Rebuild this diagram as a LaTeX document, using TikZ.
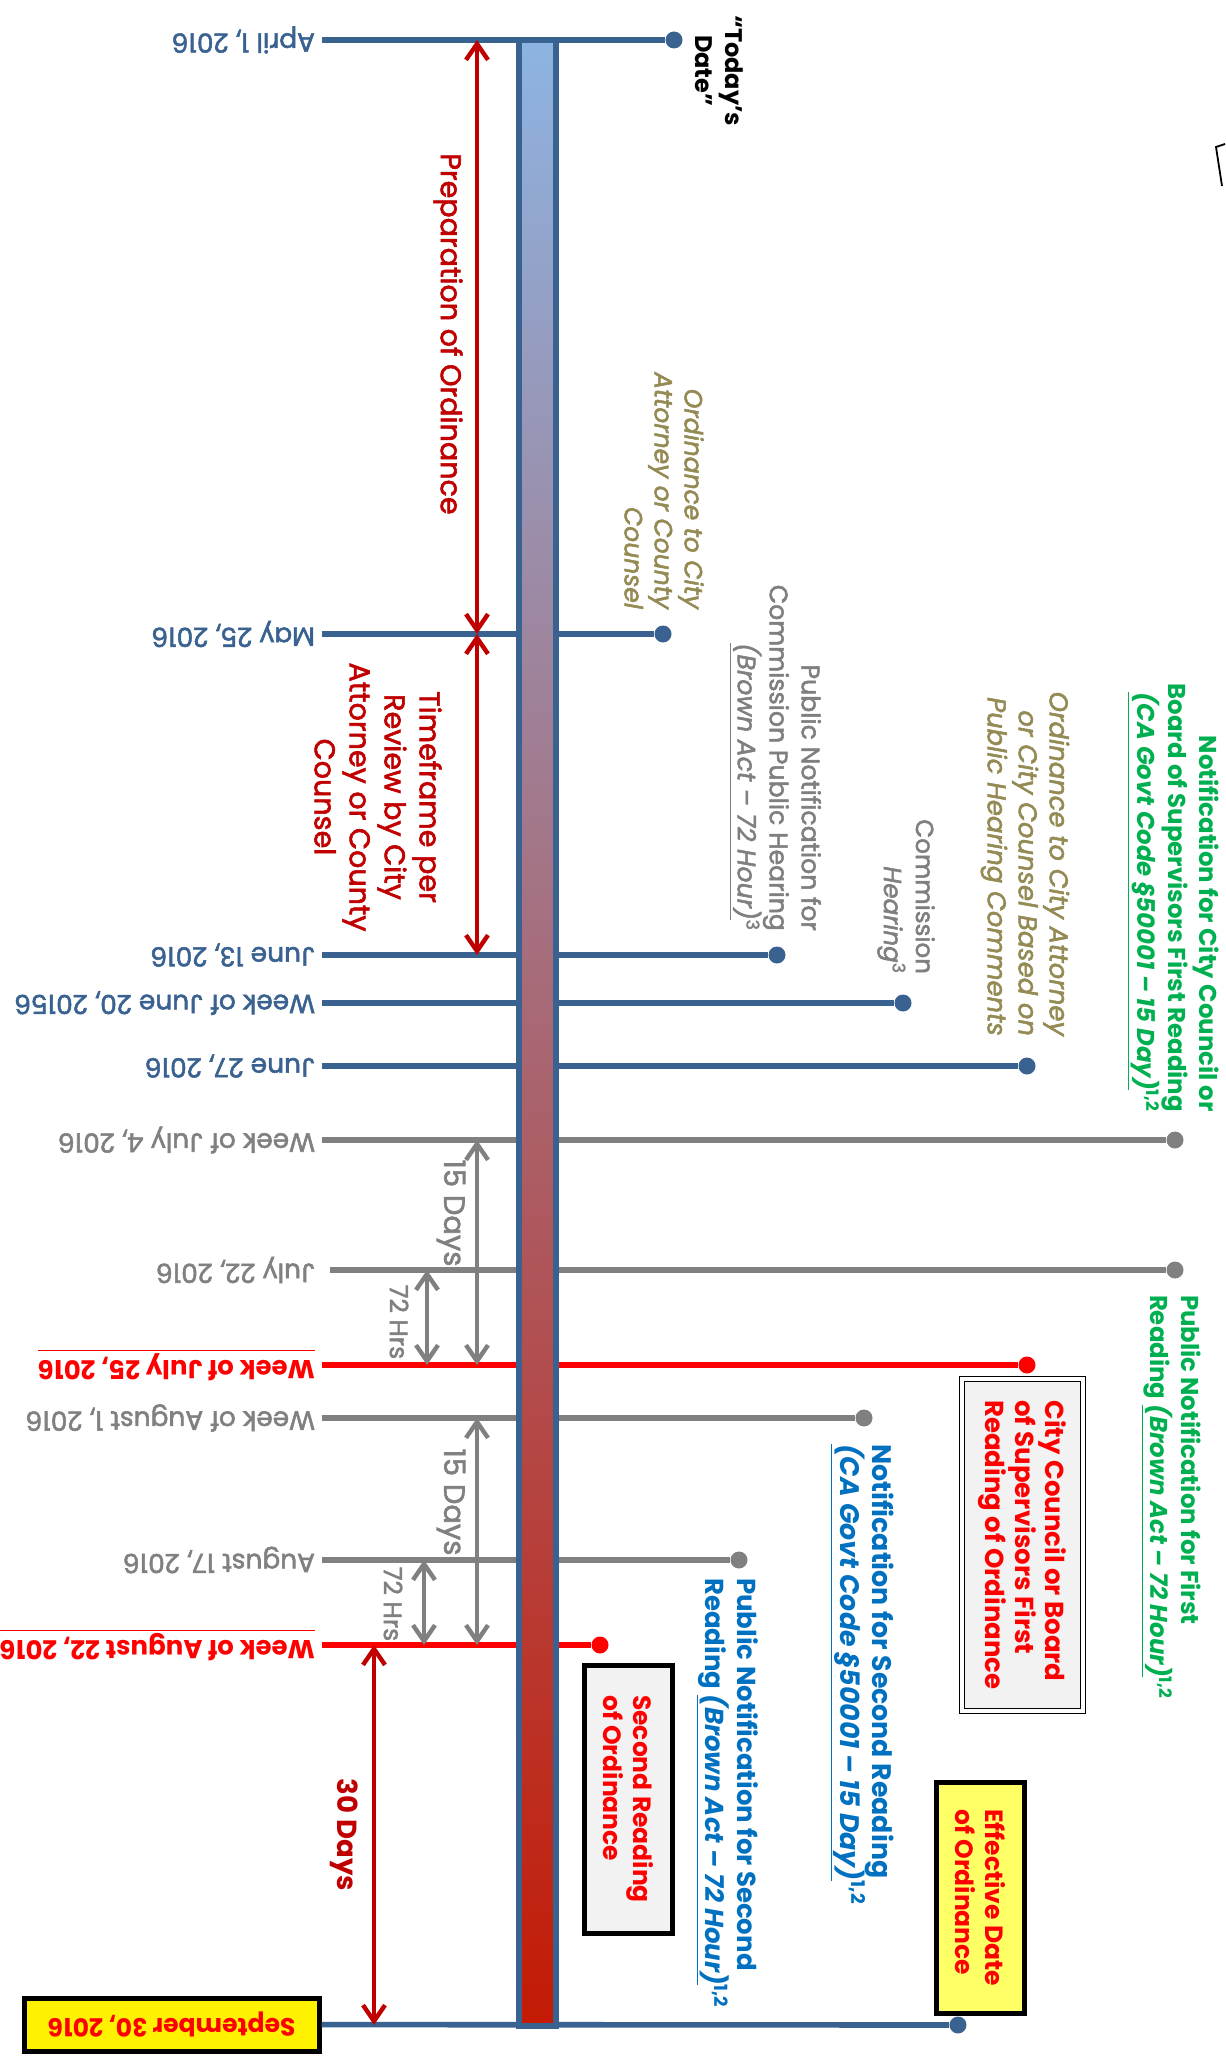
\documentclass[tikz,border=0pt]{standalone}
\usepackage{fontspec}
\setmainfont{Poppins}[UprightFeatures={FakeBold=2},ItalicFeatures={FakeBold=2}]
\usepackage{xcolor}
\usepackage{tikz}
\usetikzlibrary{arrows.meta}

\definecolor{lineblue}{HTML}{3A6291}
\definecolor{linegray}{HTML}{808080}
\definecolor{linered}{HTML}{FF0000}
\definecolor{arrowred}{HTML}{C00000}
\definecolor{olivetxt}{HTML}{948A54}
\definecolor{greentxt}{HTML}{00B050}
\definecolor{bluetxt}{HTML}{0070C0}
\definecolor{graytxt}{HTML}{7F7F7F}
\definecolor{barTop}{HTML}{8DB4E2}
\definecolor{barMid}{HTML}{B283A2}
\definecolor{barBot}{HTML}{C41A04}
\definecolor{boxgray}{HTML}{F2F2F2}
\definecolor{effyellow}{HTML}{FFFF66}

\begin{document}
\begin{tikzpicture}[x=0.5pt,y=-0.5pt,
  bline/.style={lineblue,line width=2.8pt},
  gline/.style={linegray,line width=2.8pt},
  rline/.style={linered,line width=2.8pt},
  dot/.style={circle,fill,inner sep=0pt,minimum size=8.5pt},
  datelbl/.style={rotate=180,anchor=west,font=\fontsize{13.2}{15}\selectfont},
  sidelbl/.style={rotate=-90},
  span/.style={<->,>={Straight Barb[length=8pt,width=11pt]},line width=2.2pt},
  board/.style={draw=black,line width=2.5pt,align=left,text=linered,
    font=\bfseries\fontsize{12.5}{15}\selectfont}]

\useasboundingbox (0,0) rectangle (1225,2059);

% start of each date line
\coordinate (aprL) at (322,40);
\coordinate (mayL) at (322,634);
\coordinate (junThL) at (322,955);
\coordinate (junTwL) at (322,1003);
\coordinate (junSvL) at (322,1066);
\coordinate (julFoL) at (322,1140);
\coordinate (julTwL) at (330,1270);
\coordinate (julFvL) at (322,1365);
\coordinate (augOnL) at (322,1418);
\coordinate (augSvL) at (322,1560);
\coordinate (augTwL) at (322,1645);

% dots at the right end
\node[dot,lineblue] (aprD) at (674,40) {};
\node[dot,lineblue] (mayD) at (663,634) {};
\node[dot,lineblue] (junThD) at (777,955) {};
\node[dot,lineblue] (junTwD) at (903,1003) {};
\node[dot,lineblue] (junSvD) at (1027,1066) {};
\node[dot,linegray] (julFoD) at (1175,1140) {};
\node[dot,linegray] (julTwD) at (1175,1270) {};
\node[dot,linered] (julFvD) at (1027,1365) {};
\node[dot,linegray] (augOnD) at (864,1418) {};
\node[dot,linegray] (augSvD) at (739,1560) {};
\node[dot,linered] (augTwD) at (600,1645) {};
\node[dot,lineblue] (sepD) at (958,2025) {};

% dates
\node[datelbl,text=lineblue] (aprT) at (aprL) {April 1, 2016};
\node[datelbl,text=lineblue] (mayT) at (mayL) {May 25, 2016};
\node[datelbl,text=lineblue] (junThT) at (junThL) {June 13, 2016};
\node[datelbl,text=lineblue] (junTwT) at (junTwL) {Week of June 20, 20156};
\node[datelbl,text=lineblue] (junSvT) at (junSvL) {June 27, 2016};
\node[datelbl,text=linegray] (julFoT) at (julFoL) {Week of July 4, 2016};
\node[datelbl,text=linegray] (julTwT) at (322,1270) {July 22, 2016};
\node[datelbl,text=linered,font=\bfseries\fontsize{13}{15}\selectfont] (julFvT) at (julFvL) {\underline{Week of July 25, 2016}};
\node[datelbl,text=linegray] (augOnT) at (augOnL) {Week of August 1, 2016};
\node[datelbl,text=linegray] (augSvT) at (augSvL) {August 17, 2016};
\node[datelbl,text=linered,font=\bfseries\fontsize{13}{15}\selectfont] (augTwT) at (augTwL) {\underline{Week of August 22, 2016}};
\node[board,rotate=180,fill=yellow,minimum width=147.5pt,minimum height=26.5pt] (sepBox) at (171.5,2024.5) {September 30, 2016};

% date lines
\draw[bline] (aprL) -- (aprD);
\draw[bline] (mayL) -- (mayD);
\draw[bline] (junThL) -- (junThD);
\draw[bline] (junTwL) -- (junTwD);
\draw[bline] (junSvL) -- (junSvD);
\draw[gline] (julFoL) -- (julFoD);
\draw[gline] (julTwL) -- (julTwD);
\draw[rline] (julFvL) -- (julFvD);
\draw[gline] (augOnL) -- (augOnD);
\draw[gline] (augSvL) -- (augSvD);
\draw[rline] (augTwL) -- (augTwD);
\draw[bline] (sepBox) -- (sepD);

% timeline bar
\draw[lineblue,line width=3pt,top color=barTop,middle color=barMid,bottom color=barBot] (519,40) rectangle (556,2026);

% spans
\coordinate (aprA) at (477,40);
\coordinate (mayA) at (477,634);
\coordinate (junA) at (477,955);
\coordinate (julFoA) at (477,1140);
\coordinate (julTwA) at (427,1270);
\coordinate (julFvA) at (477,1365);
\coordinate (julFvB) at (427,1365);
\coordinate (augOnA) at (477,1418);
\coordinate (augSvA) at (424,1560);
\coordinate (augTwA) at (477,1645);
\coordinate (augTwB) at (424,1645);
\coordinate (augTwC) at (374,1645);
\coordinate (sepA) at (374,2025);

\draw[span,arrowred] (aprA) -- (mayA);
\draw[span,arrowred] (mayA) -- (junA);
\draw[span,linegray] (julFoA) -- (julFvA);
\draw[span,linegray] (julTwA) -- (julFvB);
\draw[span,linegray] (augOnA) -- (augTwA);
\draw[span,linegray] (augSvA) -- (augTwB);
\draw[span,arrowred] (augTwC) -- (sepA);

\node[sidelbl,text=arrowred,font=\fontsize{14.3}{16}\selectfont] (prepT) at (448,334) {Preparation of Ordinance};
\node[sidelbl,align=center,text=arrowred,font=\fontsize{14.3}{17.5}\selectfont] (reviewT) at (378,797) {Timeframe per\\Review by City\\Attorney or County\\Counsel};
\node[sidelbl,text=linegray,font=\fontsize{14.5}{16}\selectfont] (fifteenAT) at (451,1213) {15 Days};
\node[sidelbl,text=linegray,font=\fontsize{12.5}{15}\selectfont] (hrsAT) at (399,1322) {72 Hrs};
\node[sidelbl,text=linegray,font=\fontsize{14.5}{16}\selectfont] (fifteenBT) at (451,1502) {15 Days};
\node[sidelbl,text=linegray,font=\fontsize{12.5}{15}\selectfont] (hrsBT) at (393,1604) {72 Hrs};
\node[sidelbl,text=arrowred,font=\bfseries\fontsize{13.8}{15}\selectfont] (thirtyT) at (344,1835) {30 Days};

% event labels
\node[sidelbl,anchor=west,align=center,font=\bfseries\fontsize{12}{15}\selectfont] (todayT) at (719,8) {“Today’s\\Date”};
\node[sidelbl,anchor=east,align=right,text=olivetxt,font=\itshape\fontsize{12.5}{15}\selectfont] (counselT) at (664,616) {Ordinance to City\\Attorney or County\\Counsel};
\node[sidelbl,anchor=east,align=right,text=graytxt,font=\fontsize{12.6}{16}\selectfont] (noticeT) at (775,938) {Public Notification for\\Commission Public Hearing\\\underline{\textit{(Brown Act – 72 Hour)}}\textsuperscript{3}};
\node[sidelbl,anchor=east,align=right,text=graytxt,font=\fontsize{12.3}{16}\selectfont] (hearT) at (906,981) {Commission\\\textit{Hearing}\textsuperscript{3}};
\node[sidelbl,anchor=east,align=right,text=olivetxt,font=\itshape\fontsize{12.9}{15.5}\selectfont] (commentT) at (1025,1043) {Ordinance to City Attorney\\or City Counsel Based on\\Public Hearing Comments};
\node[sidelbl,anchor=east,align=right,text=greentxt,font=\bfseries\fontsize{12.2}{15.5}\selectfont] (firstNoteT) at (1173,1119) {Notification for City Council or\\Board of Supervisors First Reading\\\underline{\textit{(CA Govt Code §50001 – 15 Day)}}\textsuperscript{1,2}};
\node[sidelbl,anchor=west,align=left,text=greentxt,font=\bfseries\fontsize{12.2}{15.5}\selectfont] (firstPubT) at (1171.5,1288) {Public Notification for First\\Reading \underline{\textit{(Brown Act – 72 Hour)}}\textsuperscript{1,2}};
\node[sidelbl,board,double,line width=0.7pt,double distance=1.6pt,fill=boxgray,minimum width=166pt,minimum height=60.5pt,font=\bfseries\fontsize{13}{15}\selectfont] (firstBox) at (1022.5,1545) {City Council or Board\\of Supervisors First\\Reading of Ordinance};
\node[sidelbl,anchor=west,align=left,text=bluetxt,font=\bfseries\fontsize{13.4}{16}\selectfont] (secondNoteT) at (862,1437) {Notification for Second Reading\\\underline{\textit{(CA Govt Code §50001 – 15 Day)}}\textsuperscript{1,2}};
\node[sidelbl,anchor=west,align=left,text=bluetxt,font=\bfseries\fontsize{13}{16}\selectfont] (secondPubT) at (727.5,1571) {Public Notification for Second\\Reading \underline{\textit{(Brown Act – 72 Hour)}}\textsuperscript{1,2}};
\node[sidelbl,board,fill=boxgray,minimum width=134pt,minimum height=44pt] (secondBox) at (628,1799) {Second Reading\\of Ordinance};
\node[sidelbl,board,fill=effyellow,minimum width=115.5pt,minimum height=44pt] (effBox) at (980,1897.5) {Effective Date\\of Ordinance};

% stray mark at the edge
\draw[line width=0.9pt] (1225,144) -- (1216,147) -- (1222,186);

\end{tikzpicture}
\end{document}
